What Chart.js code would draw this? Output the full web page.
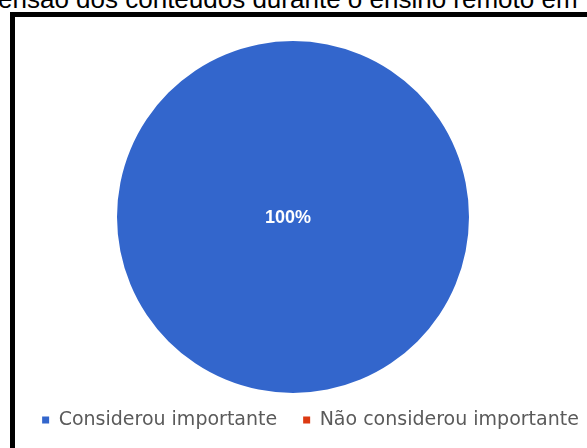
<!DOCTYPE html>
<html>
<head>
<meta charset="utf-8">
<script src="https://cdn.jsdelivr.net/npm/chart.js@4.4.1/dist/chart.umd.min.js"></script>
<style>
  body { margin: 0; background: #fff; width: 587px; height: 448px; overflow: hidden; position: relative; }
  #title { position: absolute; left: -2px; top: -16px; font: 26px "Liberation Sans", Arial, sans-serif; white-space: nowrap; color: #000; }
  #frame { position: absolute; left: 10px; top: 12px; width: 620px; height: 480px; border: 5px solid #000; box-sizing: border-box; }
  #wrap { position: absolute; left: 15px; top: 17px; width: 591px; height: 431px; }
</style>
</head>
<body>
<div id="title">ensão dos conteúdos durante o ensino remoto em</div>
<div id="frame"></div>
<div id="wrap"><canvas id="pie"></canvas></div>
<script>
// data
const categories = ['Considerou importante', 'Não considerou importante'];
const values = [100, 0];
const sliceColors = ['#3366cc', '#dc3912'];

// percentage label in the middle of the pie
const pieLabel = {
  id: 'pieLabel',
  afterDatasetsDraw(chart) {
    const arc = chart.getDatasetMeta(0).data[0];
    const total = values.reduce((a, b) => a + b, 0);
    const ctx = chart.ctx;
    ctx.save();
    ctx.fillStyle = '#fff';
    ctx.font = 'bold 18px "Liberation Sans", Arial, sans-serif';
    ctx.textAlign = 'center';
    ctx.textBaseline = 'middle';
    ctx.fillText(Math.round(values[0] / total * 100) + '%', arc.x - 5, arc.y + 1);
    ctx.restore();
  }
};

new Chart(document.getElementById('pie'), {
  type: 'pie',
  data: {
    labels: categories,
    datasets: [{
      data: values,
      backgroundColor: sliceColors,
      borderWidth: 0
    }]
  },
  options: {
    responsive: true,
    maintainAspectRatio: false,
    animation: false,
    radius: 176,
    layout: { padding: { top: 32.5, bottom: 8.5 } },
    plugins: {
      tooltip: { enabled: false },
      // empty box on the right pushes the pie a little to the left of the legend
      subtitle: {
        display: true,
        position: 'right',
        fullSize: false,
        text: '',
        font: { size: 10, lineHeight: 1 },
        padding: { top: 0, bottom: 25 }
      },
      legend: {
        position: 'bottom',
        labels: {
          boxWidth: 7,
          boxHeight: 7,
          padding: 26,
          color: '#5a5a5a',
          font: { family: '"DejaVu Sans", sans-serif', size: 19 }
        }
      }
    }
  },
  plugins: [pieLabel]
});
</script>
</body>
</html>
